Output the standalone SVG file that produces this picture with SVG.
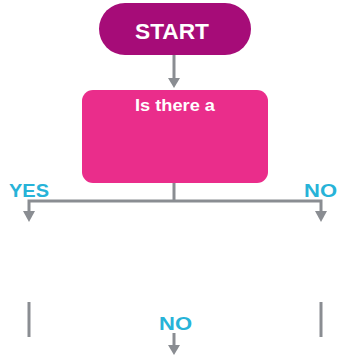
<svg xmlns="http://www.w3.org/2000/svg" width="338" height="359" viewBox="0 0 338 359">
<defs>
<style>
.lbl{font-family:"Liberation Sans",Arial,sans-serif;font-weight:bold;fill:#27b3d8;font-size:19px}
.wt{font-family:"Liberation Sans",Arial,sans-serif;font-weight:bold;fill:#ffffff;text-anchor:middle}
.ln{stroke:#8a8d92;stroke-width:3;fill:none}
.ah{fill:#8a8d92}
</style>
</defs>
<rect width="338" height="359" fill="#ffffff"/>
<g id="start">
<rect x="99" y="3" width="152" height="52" rx="26" fill="#a60c78"/>
<text class="wt" x="172" y="38.5" font-size="22" textLength="74" lengthAdjust="spacingAndGlyphs">START</text>
</g>
<g id="decision">
<rect x="82" y="90" width="186" height="93" rx="11" fill="#ea2d8b"/>
<text class="wt" x="175" y="110.5" font-size="17" textLength="80" lengthAdjust="spacingAndGlyphs">Is there a</text>
</g>
<g id="connectors">
<line class="ln" x1="174" y1="55" x2="174" y2="79"/>
<polygon class="ah" points="168,78 180,78 174,88"/>
<polyline class="ln" points="174,183 174,201"/>
<polyline class="ln" points="29,212 29,201 321,201 321,212"/>
<polygon class="ah" points="23,211 35,211 29,222"/>
<polygon class="ah" points="315,211 327,211 321,222"/>
<line class="ln" x1="29" y1="302" x2="29" y2="337"/>
<line class="ln" x1="321" y1="302" x2="321" y2="337"/>
<line class="ln" x1="174" y1="333" x2="174" y2="346"/>
<polygon class="ah" points="168,345 180,345 174,355"/>
</g>
<g id="labels">
<text class="lbl" x="9" y="196.5" textLength="40" lengthAdjust="spacingAndGlyphs">YES</text>
<text class="lbl" x="304" y="196.5" textLength="33" lengthAdjust="spacingAndGlyphs">NO</text>
<text class="lbl" x="159" y="329.5" textLength="33" lengthAdjust="spacingAndGlyphs">NO</text>
</g>
</svg>
